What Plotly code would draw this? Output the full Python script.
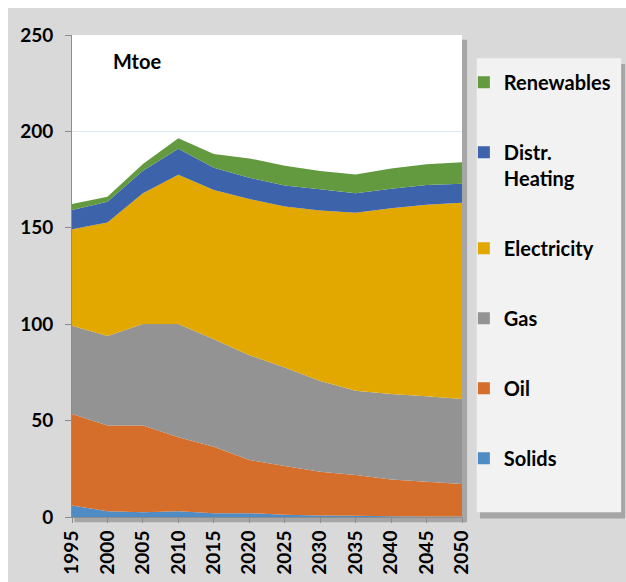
import plotly.graph_objects as go

# years on the x axis
anos = [1995, 2000, 2005, 2010, 2015, 2020, 2025, 2030, 2035, 2040, 2045, 2050]

# Mtoe per carrier (stacked bottom -> top)
solids = [6.0, 3.0, 2.4, 3.0, 2.0, 2.0, 1.2, 0.8, 0.6, 0.4, 0.3, 0.2]
oil = [47.4, 44.4, 45.0, 38.3, 34.5, 27.6, 25.3, 22.7, 21.2, 19.1, 18.0, 16.9]
gas = [45.8, 46.5, 52.7, 58.8, 55.7, 54.3, 51.1, 47.0, 43.7, 44.3, 44.3, 44.1]
electricity = [50.0, 58.8, 67.8, 77.4, 77.4, 81.0, 83.4, 88.5, 92.3, 96.4, 99.4, 101.8]
distr_heating = [10.0, 10.8, 11.7, 13.5, 11.6, 11.1, 11.0, 11.0, 10.1, 10.1, 10.2, 9.9]
renewables = [3.1, 2.6, 3.5, 5.4, 7.1, 10.0, 10.2, 9.5, 9.8, 10.5, 10.8, 11.1]

series = [
    ("Solids", solids, "#4f8cc6"),
    ("Oil", oil, "#d56d2b"),
    ("Gas", gas, "#939393"),
    ("Electricity", electricity, "#e2a800"),
    ("Distr.<br>Heating", distr_heating, "#3d64ab"),
    ("Renewables", renewables, "#639a3f"),
]

FONTE = "Lato"

fig = go.Figure()

# areas empilhadas
for nome, valores, cor in series:
    fig.add_trace(go.Scatter(
        x=anos,
        y=valores,
        mode="none",
        stackgroup="energia",
        fillcolor=cor,
        name=nome,
        showlegend=False,
        hoverinfo="x+y+name"
    ))

# entradas da legenda (quadrados), de cima para baixo
for i, (nome, valores, cor) in enumerate(reversed(series)):
    fig.add_trace(go.Scatter(
        x=[None],
        y=[None],
        mode="markers",
        marker=dict(symbol="square", size=12, color=cor),
        name=nome,
        legendgroup=f"g{i}",
        showlegend=True
    ))

# fundo cinzento, sombras e caixa da legenda
fig.add_shape(type="rect", xref="paper", yref="paper",
              x0=-0.164, x1=1.45, y0=-0.16, y1=1.056,
              fillcolor="#d9d9d9", line_width=0, layer="below")
fig.add_shape(type="rect", xref="paper", yref="paper",
              x0=0.006, x1=1.013, y0=-0.011, y1=0.99,
              fillcolor="#a6a6a6", line_width=0, layer="below")
fig.add_shape(type="rect", xref="paper", yref="paper",
              x0=0, x1=1, y0=0, y1=1,
              fillcolor="white", line_width=0, layer="below")
fig.add_shape(type="rect", xref="paper", yref="paper",
              x0=1.046, x1=1.418, y0=-0.003, y1=0.94,
              fillcolor="#a6a6a6", line_width=0, layer="below")
fig.add_shape(type="rect", xref="paper", yref="paper",
              x0=1.038, x1=1.408, y0=0.01, y1=0.952,
              fillcolor="#f2f2f2", line_width=0, layer="below")

fig.add_annotation(
    text="Mtoe", x=0.1, y=0.947, xref="paper", yref="paper",
    xanchor="left", yanchor="middle", showarrow=False,
    font=dict(family=FONTE, size=20, color="black", weight="bold")
)

fig.update_layout(
    width=626,
    height=582,
    margin=dict(l=72, r=164, t=35, b=65),
    paper_bgcolor="white",
    plot_bgcolor="white",
    font=dict(family=FONTE, size=19, color="black", weight="bold"),
    showlegend=True,
    legend=dict(
        xref="container", yref="container",
        x=0.741, y=0.892, xanchor="left", yanchor="top",
        maxheight=470,
        bgcolor="rgba(0,0,0,0)",
        traceorder="grouped",
        tracegroupgap=41,
        valign="top",
        font=dict(family=FONTE, size=20, color="black", weight="bold")
    ),
    xaxis=dict(
        range=[1995, 2050],
        tickvals=anos,
        tickangle=-90,
        ticks="outside",
        ticklen=5,
        tickcolor="#8c8c8c",
        showline=True,
        linecolor="#8c8c8c",
        showgrid=False,
        zeroline=False,
        automargin=False
    ),
    yaxis=dict(
        range=[0, 250],
        dtick=50,
        ticks="outside",
        ticklen=6,
        tickcolor="#8c8c8c",
        showline=True,
        linecolor="#8c8c8c",
        showgrid=True,
        gridcolor="#dfe8f1",
        zeroline=False,
        ticklabelstandoff=8,
        automargin=False
    )
)

# pagina sem margens nem barras de deslocamento
ajuste_pagina = (
    "document.body.style.margin='0';"
    "document.body.style.overflow='hidden';"
    "document.documentElement.style.overflow='hidden';"
)

fig.write_html("out.html", config={"displayModeBar": False}, post_script=ajuste_pagina)
